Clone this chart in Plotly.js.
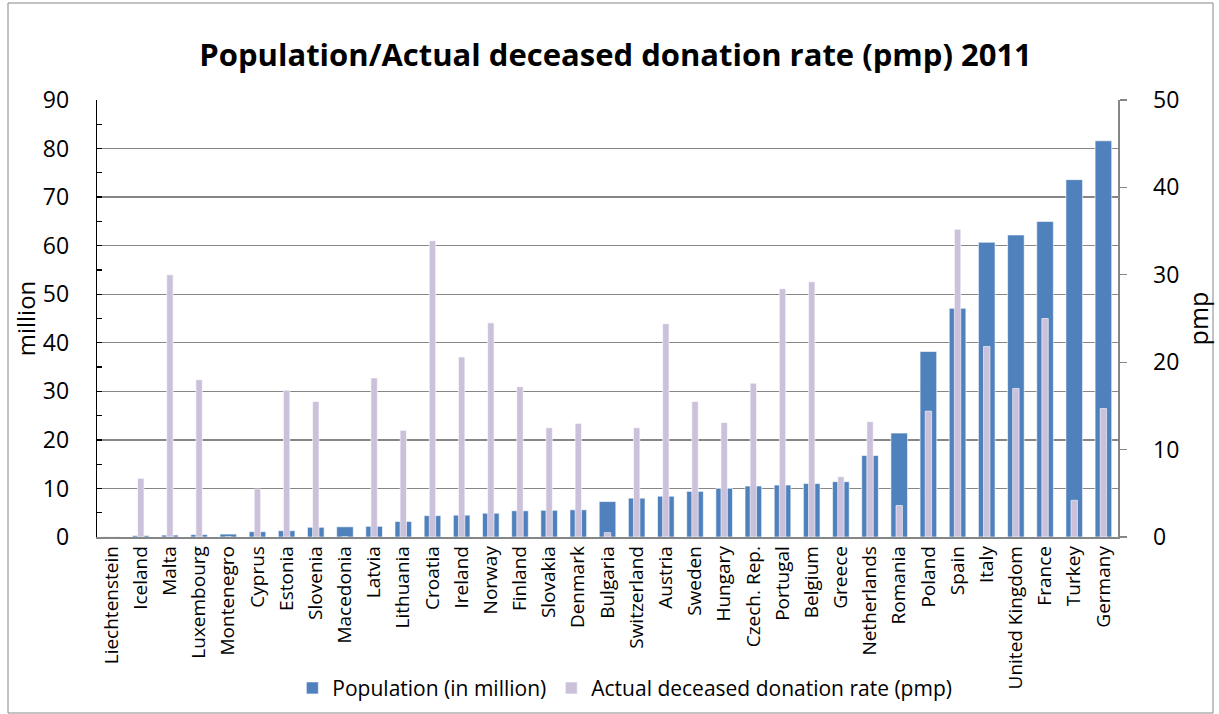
<!DOCTYPE html>
<html>
<head>
<meta charset="utf-8">
<script src="https://cdn.plot.ly/plotly-3.0.1.min.js"></script>
<style>
html,body{margin:0;padding:0;background:#fff;}
#chart{width:1219px;height:714px;}
</style>
</head>
<body>
<div id="chart"></div>
<script>
const countries = ["Liechtenstein","Iceland","Malta","Luxembourg","Montenegro","Cyprus","Estonia","Slovenia","Macedonia","Latvia","Lithuania","Croatia","Ireland","Norway","Finland","Slovakia","Denmark","Bulgaria","Switzerland","Austria","Sweden","Hungary","Czech. Rep.","Portugal","Belgium","Greece","Netherlands","Romania","Poland","Spain","Italy","United Kingdom","France","Turkey","Germany"];
const population = [0.04,0.3,0.4,0.5,0.6,1.1,1.3,2.0,2.1,2.2,3.2,4.4,4.5,4.9,5.4,5.5,5.6,7.3,8.0,8.4,9.4,10.0,10.5,10.7,11.0,11.4,16.8,21.4,38.2,47.1,60.7,62.2,65.0,73.6,81.6];
const donationRate = [0,6.7,30.0,18.0,0,5.5,16.8,15.5,0,18.2,12.2,33.9,20.6,24.5,17.2,12.5,13.0,0.5,12.5,24.4,15.5,13.1,17.6,28.4,29.2,6.9,13.2,3.6,14.4,35.2,21.8,17.0,25.0,4.2,14.7];
const leftTicks = [0,10,20,30,40,50,60,70,80,90];
const rightTicks = [0,10,20,30,40,50];

const FONT = "'Open Sans', sans-serif";

const traces = [
  {type:"bar", name:"Population (in million)", x:countries, y:population, yaxis:"y", width:0.57,
   marker:{color:"#4F81BD", line:{color:"#ffffff", width:0.6}}},
  {type:"bar", name:"Actual deceased donation rate (pmp)", x:countries, y:donationRate, yaxis:"y2", width:0.22,
   marker:{color:"#CCC1DA", line:{color:"#ffffff", width:0.6}}}
];

const layout = {
  width:1219, height:714,
  margin:{l:97, r:101, t:100, b:177, autoexpand:false},
  paper_bgcolor:"#ffffff", plot_bgcolor:"#ffffff",
  font:{family:FONT, color:"#000000", size:18},
  title:{text:"<b>Population/Actual deceased donation rate (pmp) 2011</b>", x:0.505, xanchor:"center", y:0.923, yanchor:"middle",
         font:{family:FONT, size:31, color:"#000"}},
  showlegend:true,
  legend:{orientation:"h", x:0.517, xanchor:"center", yref:"container", y:0.036, yanchor:"middle", font:{size:21, family:FONT}, traceorder:"normal", itemwidth:30},
  xaxis:{type:"category", tickangle:-90, tickfont:{size:19, family:FONT}, showgrid:false, showline:true, linecolor:"#868686", linewidth:1.5, ticks:"", range:[-0.5,34.5], fixedrange:true},
  yaxis:{range:[0,90], tickvals:leftTicks, ticktext:leftTicks.map(String), showgrid:true, gridcolor:"#868686", gridwidth:1.3,
         showline:true, linecolor:"#000", linewidth:1.3, ticks:"inside", ticklen:5, tickcolor:"#000", tickwidth:1.3,
         minor:{dtick:5, ticks:"inside", ticklen:5, tickcolor:"#000", showgrid:false},
         tickfont:{size:23, family:FONT}, zeroline:false, ticklabelstandoff:22,
         title:{text:"million", font:{size:24, family:FONT}, standoff:0}},
  yaxis2:{range:[0,50], overlaying:"y", side:"right", tickvals:rightTicks, showgrid:false,
          showline:true, linecolor:"#868686", linewidth:1.5, ticks:"outside", ticklen:7, tickcolor:"#868686", tickwidth:1.3,
          tickfont:{size:23, family:FONT}, zeroline:false, ticklabelstandoff:22,
          title:{text:"pmp", font:{size:25, family:FONT}, standoff:12}},
  bargap:0.4,
  shapes:[{type:"rect", xref:"paper", yref:"paper", x0:(8-97)/1021, x1:(1213-97)/1021, y0:(537-713)/437, y1:(537-3)/437,
           line:{color:"#868686", width:1}, fillcolor:"rgba(0,0,0,0)", layer:"below"}]
};

Plotly.newPlot("chart", traces, layout, {displayModeBar:false, staticPlot:true});
</script>
</body>
</html>
